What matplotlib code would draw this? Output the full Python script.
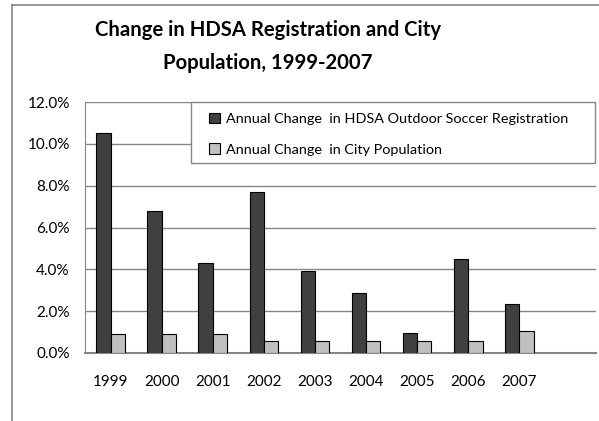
import numpy as np
import matplotlib.pyplot as plt
from matplotlib.lines import Line2D
from matplotlib.patches import Rectangle
from matplotlib.ticker import PercentFormatter

plt.rcParams['font.family'] = ['Lato', 'DejaVu Sans']

# ============= data ========================
years = ['1999', '2000', '2001', '2002', '2003', '2004', '2005', '2006', '2007']
soccer_change = [10.5, 6.8, 4.3, 7.7, 3.9, 2.85, 0.97, 4.5, 2.35]
city_change = [0.9, 0.9, 0.9, 0.57, 0.57, 0.57, 0.57, 0.57, 1.05]

label_soccer = 'Annual Change  in HDSA Outdoor Soccer Registration'
label_city = 'Annual Change  in City Population'

dark = '#404040'
light = '#c0c0c0'
grid_c = '#868686'

fig = plt.figure(figsize=(5.99, 4.21), dpi=100)
ax = fig.add_axes([85 / 599, 1 - 353 / 421, 511 / 599, 251 / 421])

x = np.arange(len(years))
w = 0.28
ax.bar(x - w / 2, soccer_change, width=w, color=dark, edgecolor='black', linewidth=0.8,
       label=label_soccer, zorder=3)
ax.bar(x + w / 2, city_change, width=w, color=light, edgecolor='black', linewidth=0.8,
       label=label_city, zorder=3)

# one empty slot after 2007, like the original
ax.set_xlim(-0.5, len(years) + 0.5)
ax.set_ylim(0, 12)
ax.set_yticks(np.arange(0, 12.1, 2))
ax.yaxis.set_major_formatter(PercentFormatter(decimals=1))
ax.set_xticks(x)
ax.set_xticklabels(years)
ax.tick_params(axis='both', length=0, labelsize=11)
ax.tick_params(axis='y', pad=11)
ax.tick_params(axis='x', pad=16)

ax.grid(axis='y', color=grid_c, linewidth=1.0, zorder=0)
for side in ['top', 'right']:
    ax.spines[side].set_visible(False)
ax.spines['left'].set_color(grid_c)
ax.spines['bottom'].set_color(grid_c)
ax.spines['bottom'].set_linewidth(1.5)

# legend box drawn by hand, excel-style wide padding
box = Rectangle((0.207, 0.755), 0.791, 0.245, transform=ax.transAxes, facecolor='white',
                edgecolor=grid_c, linewidth=1.0, clip_on=False, zorder=4)
ax.add_patch(box)
leg = ax.legend(loc='upper left', bbox_to_anchor=(0.243, 0.957), fontsize=10.4,
                frameon=False, handlelength=0.75, handleheight=0.75, handletextpad=0.4,
                labelspacing=1.25, borderpad=0, borderaxespad=0)
leg.set_zorder(5)

fig.text(268 / 599, 1 - 30 / 421, 'Change in HDSA Registration and City', ha='center', va='center',
         fontsize=14.6, fontweight='bold')
fig.text(268 / 599, 1 - 63 / 421, 'Population, 1999-2007', ha='center', va='center',
         fontsize=14.6, fontweight='bold')

# chart area border (only the left and top edges show)
fig.add_artist(Line2D([11.5 / 599, 11.5 / 599], [0, 1 - 5 / 421], color=grid_c, linewidth=1.2))
fig.add_artist(Line2D([11.5 / 599, 1], [1 - 5 / 421, 1 - 5 / 421], color=grid_c, linewidth=1.2))

plt.savefig('out.png', dpi=100)
